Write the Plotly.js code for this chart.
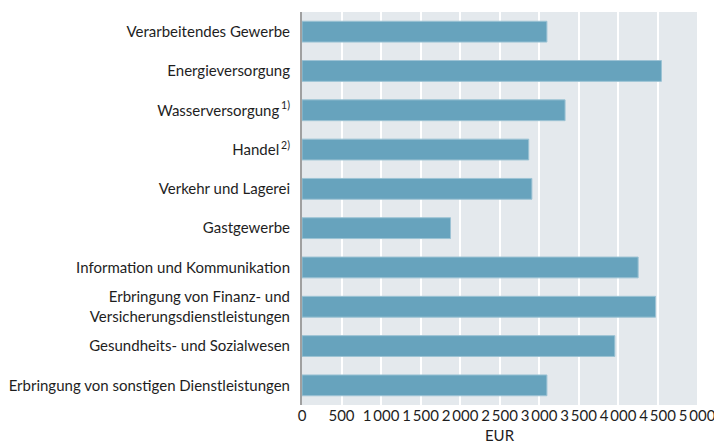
<!DOCTYPE html>
<html><head><meta charset="utf-8">
<script src="https://cdn.plot.ly/plotly-3.0.1.min.js"></script>
<style>html,body{margin:0;padding:0;background:#fff}</style>
</head><body><div id="chart" style="width:714px;height:444px"></div>
<script>
const categories = [
  "Verarbeitendes Gewerbe",
  "Energieversorgung",
  "Wasserversorgung\u2009<sup>1)</sup>",
  "Handel\u2009<sup>2)</sup>",
  "Verkehr und Lagerei",
  "Gastgewerbe",
  "Information und Kommunikation",
  "Erbringung von Finanz- und<br>Versicherungsdienstleistungen",
  "Gesundheits- und Sozialwesen",
  "Erbringung von sonstigen Dienstleistungen"
];
const values = [3100, 4550, 3330, 2870, 2910, 1880, 4255, 4475, 3960, 3100];
const tickValues = [0, 500, 1000, 1500, 2000, 2500, 3000, 3500, 4000, 4500, 5000];
const tickLabels = ["0", "500", "1\u2009000", "1\u2009500", "2\u2009000", "2\u2009500", "3\u2009000", "3\u2009500", "4\u2009000", "4\u2009500", "5\u2009000"];

const font = "Lato, 'Noto Sans', sans-serif";
Plotly.newPlot("chart", [{
  type: "bar",
  orientation: "h",
  x: values,
  y: categories,
  marker: {color: "#67a3bd", line: {color: "#9cc3d4", width: 1}},
  hoverinfo: "none"
}], {
  width: 714, height: 444,
  margin: {l: 302, r: 17, t: 12, b: 39},
  paper_bgcolor: "#ffffff",
  plot_bgcolor: "#e4e9ed",
  bargap: 0.47,
  showlegend: false,
  font: {family: font, size: 15, color: "#1e1e1e"},
  xaxis: {
    range: [0, 5000],
    tickvals: tickValues,
    ticktext: tickLabels,
    ticklabeloverflow: "allow",
    showgrid: true, gridcolor: "#ffffff", gridwidth: 2,
    zeroline: false, showline: false,
    ticks: "",
    tickfont: {family: font, size: 15, color: "#1e1e1e"},
    title: {text: "EUR", font: {family: font, size: 15, color: "#1e1e1e"}, standoff: 9},
    fixedrange: true
  },
  yaxis: {
    autorange: "reversed",
    showgrid: false, zeroline: false,
    showline: true, linecolor: "#a0a0a0", linewidth: 2,
    ticks: "outside", ticklen: 7, tickcolor: "rgba(0,0,0,0)",
    tickfont: {family: font, size: 15, color: "#1e1e1e"},
    fixedrange: true
  }
}, {displayModeBar: false, staticPlot: true});
</script></body></html>
